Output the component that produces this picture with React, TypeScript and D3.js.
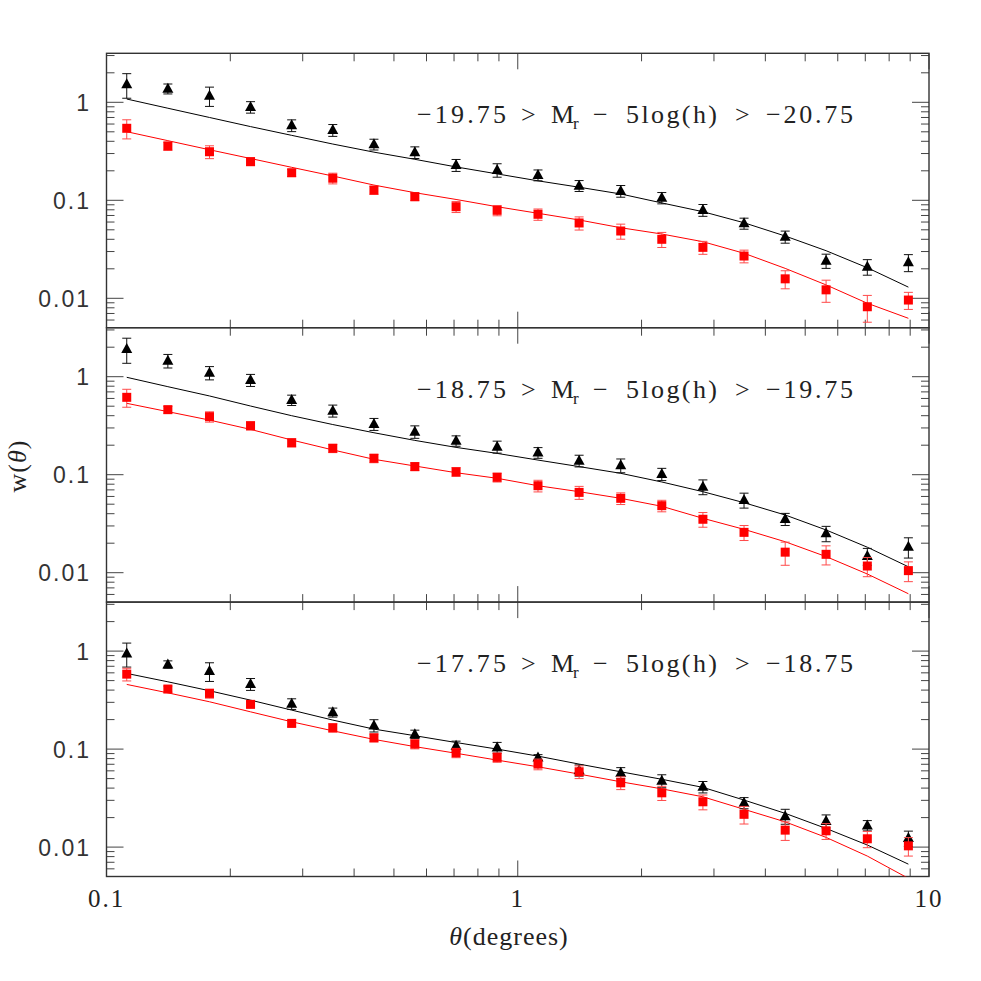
import React from "react";
import * as d3 from "d3";

const theta = [0.112, 0.141, 0.178, 0.224, 0.282, 0.355, 0.447, 0.562, 0.708, 0.891, 1.12, 1.41, 1.78, 2.24, 2.82, 3.55, 4.47, 5.62, 7.08, 8.91];

const tri1 = [1.53, 1.377, 1.168, 0.895, 0.582, 0.521, 0.373, 0.309, 0.229, 0.204, 0.181, 0.141, 0.1245, 0.106, 0.0796, 0.0582, 0.0425, 0.0242, 0.021, 0.0233];
const tri1Err = [0.43, 0.16, 0.26, 0.12, 0.08, 0.072, 0.047, 0.042, 0.032, 0.032, 0.023, 0.018, 0.017, 0.014, 0.011, 0.0075, 0.006, 0.004, 0.0038, 0.0046];
const sq1 = [0.543, 0.358, 0.313, 0.248, 0.191, 0.168, 0.127, 0.109, 0.086, 0.079, 0.072, 0.0587, 0.0486, 0.04, 0.0331, 0.027, 0.0158, 0.0122, 0.0082, 0.0096];
const sq1Err = [0.12, 0.034, 0.047, 0.022, 0.016, 0.021, 0.012, 0.01, 0.011, 0.0095, 0.0095, 0.009, 0.0085, 0.007, 0.005, 0.004, 0.0033, 0.0031, 0.0025, 0.0019];
const fitBlack1 = [1.08, 0.87, 0.7, 0.565, 0.46, 0.375, 0.31, 0.262, 0.219, 0.186, 0.158, 0.136, 0.116, 0.094, 0.0765, 0.059, 0.0432, 0.0306, 0.0205, 0.013];
const fitRed1 = [0.501, 0.406, 0.328, 0.267, 0.217, 0.177, 0.143, 0.1196, 0.102, 0.086, 0.0737, 0.063, 0.0525, 0.0453, 0.0378, 0.0288, 0.0202, 0.0137, 0.0089, 0.00625];

const tri2 = [1.92, 1.457, 1.098, 0.925, 0.578, 0.45, 0.329, 0.275, 0.222, 0.193, 0.168, 0.139, 0.1247, 0.1016, 0.0755, 0.0552, 0.0353, 0.0252, 0.0148, 0.0184];
const tri2Err = [0.55, 0.23, 0.17, 0.13, 0.07, 0.063, 0.046, 0.04, 0.027, 0.027, 0.021, 0.019, 0.02, 0.0145, 0.013, 0.0096, 0.005, 0.0045, 0.0029, 0.0043];
const sq2 = [0.616, 0.461, 0.391, 0.316, 0.212, 0.186, 0.147, 0.121, 0.107, 0.094, 0.0772, 0.066, 0.0574, 0.0483, 0.0351, 0.0258, 0.0162, 0.0154, 0.0117, 0.0105];
const sq2Err = [0.128, 0.037, 0.047, 0.03, 0.02, 0.018, 0.0145, 0.011, 0.011, 0.0098, 0.0105, 0.01, 0.0078, 0.0065, 0.006, 0.0045, 0.0043, 0.0034, 0.0026, 0.0024];
const fitBlack2 = [0.986, 0.791, 0.636, 0.502, 0.4, 0.325, 0.268, 0.224, 0.19, 0.165, 0.141, 0.121, 0.1033, 0.0843, 0.0671, 0.0518, 0.0388, 0.0273, 0.0182, 0.0115];
const fitRed2 = [0.535, 0.44, 0.361, 0.29, 0.226, 0.179, 0.1436, 0.1227, 0.1048, 0.0919, 0.0772, 0.0671, 0.0574, 0.0476, 0.0359, 0.0277, 0.0207, 0.0146, 0.0097, 0.0061];

const tri3 = [0.947, 0.732, 0.625, 0.461, 0.29, 0.237, 0.1745, 0.142, 0.108, 0.104, 0.0823, 0.061, 0.0573, 0.0475, 0.0412, 0.0283, 0.0207, 0.0185, 0.01664, 0.01235];
const tri3Err = [0.26, 0.063, 0.135, 0.064, 0.036, 0.025, 0.025, 0.014, 0.0125, 0.013, 0.0055, 0.008, 0.0074, 0.0072, 0.0055, 0.0037, 0.0036, 0.0028, 0.002, 0.0022];
const sq3 = [0.582, 0.41, 0.37, 0.286, 0.183, 0.165, 0.1304, 0.1125, 0.0917, 0.0823, 0.0703, 0.0587, 0.0453, 0.0358, 0.029, 0.0216, 0.0149, 0.01467, 0.01216, 0.0103];
const sq3Err = [0.086, 0.029, 0.039, 0.018, 0.014, 0.016, 0.012, 0.012, 0.01, 0.009, 0.0088, 0.0087, 0.0067, 0.0059, 0.005, 0.0044, 0.0032, 0.0027, 0.0023, 0.0022];
const fitBlack3 = [0.592, 0.486, 0.394, 0.316, 0.25, 0.1977, 0.16, 0.137, 0.1167, 0.1, 0.0848, 0.0703, 0.0587, 0.0492, 0.0407, 0.0302, 0.0221, 0.0155, 0.0105, 0.0067];
const fitRed3 = [0.457, 0.375, 0.304, 0.24, 0.19, 0.1537, 0.1256, 0.106, 0.0907, 0.0772, 0.066, 0.0556, 0.0464, 0.0393, 0.0326, 0.0243, 0.0181, 0.01256, 0.0081, 0.0048];

const panelLabels = [
  ["\u221219.75", "\u221220.75"],
  ["\u221218.75", "\u221219.75"],
  ["\u221217.75", "\u221218.75"],
];
const yTickLabels = [
  { v: 1, t: "1" },
  { v: 0.1, t: "0.1" },
  { v: 0.01, t: "0.01" },
];
const xTickLabels = [
  { v: 0.1, t: "0.1" },
  { v: 1, t: "1" },
  { v: 10, t: "10" },
];

const panels = [
  { tri: tri1, triErr: tri1Err, sq: sq1, sqErr: sq1Err, fb: fitBlack1, fr: fitRed1 },
  { tri: tri2, triErr: tri2Err, sq: sq2, sqErr: sq2Err, fb: fitBlack2, fr: fitRed2 },
  { tri: tri3, triErr: tri3Err, sq: sq3, sqErr: sq3Err, fb: fitBlack3, fr: fitRed3 },
];

const SERIF = "'Liberation Serif', 'DejaVu Serif', 'Times New Roman', serif";
const SANS = "'Liberation Sans', 'DejaVu Sans', Arial, sans-serif";

const L = 106.5;
const R = 929;
const PTOP = 53.3;
const PH = 274.4;
const Y_DOMAIN: [number, number] = [Math.pow(10, -2.3), Math.pow(10, 0.5)];

const x = d3.scaleLog().domain([0.1, 10]).range([L, R]);

const isMajor = (v: number) => Math.abs(Math.log10(v) - Math.round(Math.log10(v))) < 1e-6;

function Panel({ idx }: { idx: number }) {
  const p = panels[idx];
  const top = PTOP + idx * PH;
  const bottom = top + PH;
  const y = d3.scaleLog().domain(Y_DOMAIN).range([bottom, top]);
  const line = d3
    .line<number>()
    .x((_, i) => x(theta[i]))
    .y((d) => y(d));
  const clipId = `clip${idx}`;
  const xt = x.ticks();
  const yt = y.ticks();
  const tickColor = "#444";
  const triPath = "M0,-6L5.5,4L-5.5,4Z";
  const lab = panelLabels[idx];
  const lx = 417;
  const ly = top + 69.8;
  const fs = 26;
  return (
    <g>
      <defs>
        <clipPath id={clipId}>
          <rect x={L} y={top} width={R - L} height={PH} />
        </clipPath>
      </defs>
      {xt.map((v, i) => {
        const len = isMajor(v) ? 16 : 8;
        const xx = x(v);
        return (
          <g key={"xt" + i} stroke={tickColor} strokeWidth={1}>
            <line x1={xx} x2={xx} y1={bottom} y2={bottom - len} />
            <line x1={xx} x2={xx} y1={top} y2={top + len} />
          </g>
        );
      })}
      {yt.map((v, i) => {
        const len = isMajor(v) ? 17 : 8;
        const yy = y(v);
        return (
          <g key={"yt" + i} stroke={tickColor} strokeWidth={1}>
            <line x1={L} x2={L + len} y1={yy} y2={yy} />
            <line x1={R} x2={R - len} y1={yy} y2={yy} />
          </g>
        );
      })}
      <rect x={L} y={top} width={R - L} height={PH} fill="none" stroke="#333" strokeWidth={1.4} />
      {yTickLabels.map((t, i) => (
        <text
          key={"yl" + i}
          x={91}
          y={y(t.v) + 8.5}
          textAnchor="end"
          fontFamily={SANS}
          fontSize={23}
          letterSpacing={2}
          fill="#333"
        >
          {t.t}
        </text>
      ))}
      <g clipPath={`url(#${clipId})`} fill="none">
        <path d={line(p.fb) || ""} stroke="#000" strokeWidth={1} />
        <path d={line(p.fr) || ""} stroke="#ff0000" strokeWidth={1} />
      </g>
      <g stroke="#111" strokeWidth={1}>
        {p.tri.map((v, i) => {
          const xx = x(theta[i]);
          const y1 = y(v + p.triErr[i]);
          const y2 = y(Math.max(v - p.triErr[i], 1e-4));
          return (
            <g key={"te" + i}>
              <line x1={xx} x2={xx} y1={y1} y2={y2} />
              <line x1={xx - 4.5} x2={xx + 4.5} y1={y1} y2={y1} />
              <line x1={xx - 4.5} x2={xx + 4.5} y1={y2} y2={y2} />
            </g>
          );
        })}
      </g>
      <g fill="#000">
        {p.tri.map((v, i) => (
          <path key={"tm" + i} d={triPath} transform={`translate(${x(theta[i])},${y(v)})`} />
        ))}
      </g>
      <g stroke="#ff4a4a" strokeWidth={1}>
        {p.sq.map((v, i) => {
          const xx = x(theta[i]);
          const y1 = y(v + p.sqErr[i]);
          const y2 = y(Math.max(v - p.sqErr[i], 1e-4));
          return (
            <g key={"se" + i}>
              <line x1={xx} x2={xx} y1={y1} y2={y2} />
              <line x1={xx - 4.5} x2={xx + 4.5} y1={y1} y2={y1} />
              <line x1={xx - 4.5} x2={xx + 4.5} y1={y2} y2={y2} />
            </g>
          );
        })}
      </g>
      <g fill="#ff0000">
        {p.sq.map((v, i) => (
          <rect key={"sm" + i} x={x(theta[i]) - 4.5} y={y(v) - 4.5} width={9} height={9} />
        ))}
      </g>
      <g fontFamily={SERIF} fontSize={fs} fill="#222">
        <text x={lx} y={ly} textLength={89} lengthAdjust="spacing">{lab[0]}</text>
        <text x={lx + 104} y={ly}>&gt;</text>
        <text x={lx + 134} y={ly}>M</text>
        <text x={lx + 156} y={ly + 6} fontSize={17}>r</text>
        <text x={lx + 176} y={ly}>{"\u2212"}</text>
        <text x={lx + 209} y={ly} textLength={91} lengthAdjust="spacing">5log(h)</text>
        <text x={lx + 318} y={ly}>&gt;</text>
        <text x={lx + 349} y={ly} textLength={87} lengthAdjust="spacing">{lab[1]}</text>
      </g>
    </g>
  );
}

export default function App() {
  const bottom = PTOP + 3 * PH;
  return (
    <svg width={981} height={981} style={{ display: "block", position: "absolute", left: 0, top: 0 }}>
      <rect x={0} y={0} width={981} height={981} fill="#fff" />
      {[0, 1, 2].map((i) => (
        <Panel key={i} idx={i} />
      ))}
      {xTickLabels.map((t, i) => (
        <text
          key={"xl" + i}
          x={x(t.v)}
          y={bottom + 30}
          textAnchor="middle"
          fontFamily={SERIF}
          fontSize={25}
          letterSpacing={2}
          fill="#222"
        >
          {t.t}
        </text>
      ))}
      <text x={509} y={945} textAnchor="middle" fontFamily={SERIF} fontSize={26} letterSpacing={1} fill="#222">
        <tspan fontStyle="italic">θ</tspan>(degrees)
      </text>
      <text
        transform="translate(26,466) rotate(-90)"
        textAnchor="middle"
        fontFamily={SERIF}
        fontSize={26}
        letterSpacing={1}
        fill="#222"
      >
        w(<tspan fontStyle="italic">θ</tspan>)
      </text>
    </svg>
  );
}
